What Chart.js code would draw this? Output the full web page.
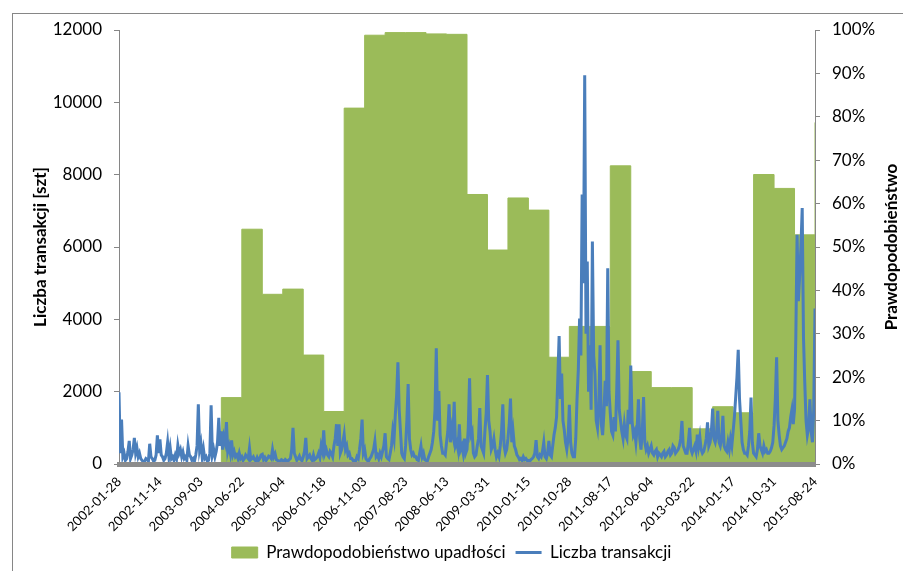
<!DOCTYPE html>
<html>
<head>
<meta charset="utf-8">
<script src="https://cdn.jsdelivr.net/npm/chart.js@4"></script>
<style>
  html, body { margin: 0; padding: 0; background: #fff; overflow: hidden; }
  #wrap { position: relative; width: 903px; height: 571px; overflow: hidden; }
  #frame { position: absolute; left: 12px; top: 13px; width: 1000px; height: 1000px;
           border-left: 1px solid #868686; border-top: 1px solid #868686; pointer-events: none; }
</style>
</head>
<body>
<div id="wrap">
  <canvas id="chart"></canvas>
  <div id="frame"></div>
</div>
<script>
// Daty pod osią X (co 32 punkty serii)
const dateLabels = ['2002-01-28', '2002-11-14', '2003-09-03', '2004-06-22', '2005-04-04', '2006-01-18',
    '2006-11-03', '2007-08-23', '2008-06-13', '2009-03-31', '2010-01-15', '2010-10-28',
    '2011-08-17', '2012-06-04', '2013-03-22', '2014-01-17', '2014-10-31', '2015-08-24'];

// Prawdopodobieństwo upadłości [%], stała wartość w każdym bloku (16 punktów serii)
const pdBlocks = [0, 0, 0, 0, 0, 15.3, 54.1, 39.1, 40.3, 25.1, 12.1, 82.0, 98.8, 99.4, 99.4, 99.1, 99.0,
    62.1, 49.3, 61.3, 58.5, 24.6, 31.7, 31.7, 68.7, 21.3, 17.6, 17.6, 8.1, 13.2, 11.8, 66.7, 63.5, 52.8];
const pdLast = 78.7;

// Liczba transakcji [szt], jeden wiersz na odstęp między datami
const transakcje = [
    1980, 300, 1230, 200, 300, 100, 150, 350, 640, 150, 250, 400, 720, 300, 450, 200, 300, 150, 100, 60, 80, 150, 120, 80, 560, 200, 150, 80, 100, 250, 790, 300,
    680, 250, 200, 100, 150, 300, 600, 200, 450, 150, 200, 100, 250, 150, 520, 300, 400, 200, 330, 150, 200, 100, 500, 250, 200, 100, 150, 80, 250, 500, 1650, 400,
    580, 200, 420, 150, 200, 80, 100, 300, 1620, 250, 400, 200, 350, 600, 1280, 500, 900, 400, 750, 600, 1160, 350, 500, 300, 650, 250, 350, 200, 250, 150, 300, 150,
    200, 100, 150, 250, 200, 150, 440, 120, 150, 200, 120, 80, 180, 100, 150, 250, 270, 120, 180, 100, 150, 220, 200, 150, 400, 200, 280, 120, 100, 60, 80, 120,
    100, 60, 120, 90, 80, 120, 150, 400, 1000, 300, 200, 100, 150, 220, 120, 90, 200, 350, 720, 150, 200, 250, 150, 100, 250, 120, 150, 200, 300, 180, 500, 350,
    930, 300, 400, 250, 200, 350, 300, 200, 500, 700, 1100, 500, 1100, 300, 400, 600, 820, 400, 500, 250, 300, 150, 150, 100, 100, 80, 200, 150, 400, 700, 1230, 300,
    400, 150, 100, 80, 150, 200, 300, 400, 630, 200, 250, 150, 300, 200, 350, 500, 850, 200, 150, 120, 300, 500, 920, 700, 1380, 1900, 2810, 1500, 900, 300, 200, 150,
    500, 1200, 2210, 700, 400, 250, 300, 200, 200, 120, 100, 300, 500, 200, 300, 120, 100, 80, 200, 300, 400, 600, 900, 1500, 3200, 1200, 2020, 800, 500, 300, 300, 250,
    600, 900, 1650, 600, 1000, 800, 1720, 500, 600, 400, 1100, 400, 500, 300, 700, 300, 400, 1000, 2370, 800, 900, 300, 200, 250, 500, 700, 1550, 500, 400, 300, 900, 1400,
    2460, 1200, 900, 400, 500, 700, 400, 200, 300, 200, 500, 900, 1650, 500, 300, 400, 700, 1100, 1810, 600, 900, 500, 400, 250, 200, 120, 150, 100, 200, 120, 150, 100,
    100, 80, 120, 150, 200, 300, 660, 200, 150, 250, 200, 350, 600, 200, 150, 300, 640, 250, 200, 500, 800, 1000, 1300, 2400, 3540, 1800, 2500, 1200, 950, 600, 400, 700,
    1640, 600, 300, 200, 200, 700, 1800, 2600, 4020, 3000, 7450, 5000, 10750, 3600, 5600, 2000, 3280, 1500, 6150, 3000, 2500, 1200, 1000, 1600, 3280, 1100, 800, 1400, 2300, 1600, 5410, 2000,
    1400, 900, 800, 1300, 900, 2000, 3420, 1500, 1200, 900, 700, 1100, 800, 700, 1500, 1100, 2720, 1200, 800, 900, 600, 1000, 1790, 700, 400, 900, 1850, 600, 400, 500, 300, 400,
    500, 300, 250, 350, 400, 200, 300, 250, 200, 300, 350, 200, 250, 350, 400, 250, 300, 500, 450, 300, 350, 400, 500, 700, 1190, 500, 400, 300, 300, 600, 1000, 400,
    300, 400, 500, 350, 810, 500, 750, 400, 300, 350, 500, 700, 1150, 500, 600, 900, 1530, 700, 600, 800, 1470, 600, 500, 700, 1330, 500, 400, 350, 600, 400, 700, 500,
    900, 1300, 1840, 2400, 3160, 1800, 1200, 600, 400, 300, 300, 250, 500, 900, 1840, 600, 300, 250, 200, 400, 850, 500, 400, 300, 500, 350, 400, 300, 300, 350, 450, 600,
    1060, 1800, 2950, 1200, 800, 500, 400, 450, 500, 600, 700, 900, 1000, 1300, 1510, 1100, 1500, 3500, 6340, 4500, 5200, 6000, 7080, 3500, 2250, 1200, 800, 1000, 1790, 900, 600, 1500,
    4300
];

const perLabel = 32;
const perBlock = 16;
const lastIdx = transakcje.length - 1;

const pdPoints = pdBlocks.map((v, k) => ({ x: k * perBlock, y: v }));
pdPoints.push({ x: lastIdx, y: pdLast });
const txPoints = transakcje.map((v, i) => ({ x: i, y: v }));

Chart.defaults.font.family = 'Lato';
Chart.defaults.color = '#000';

// tytuł prawej osi czytany od dołu do góry
const rightTitle = {
    id: 'rightTitle',
    afterDraw(chart) {
        const { ctx, chartArea } = chart;
        const s = chart.scales.y1;
        ctx.save();
        ctx.translate(s.right - 11, (chartArea.top + chartArea.bottom) / 2);
        ctx.rotate(-Math.PI / 2);
        ctx.font = 'bold 17px Lato';
        ctx.fillStyle = '#000';
        ctx.textAlign = 'center';
        ctx.textBaseline = 'middle';
        ctx.fillText('Prawdopodobieństwo', 0, 0);
        ctx.restore();
    }
};

const axisGrid = { drawOnChartArea: false, drawTicks: true, tickLength: 5, color: '#868686' };

new Chart(document.getElementById('chart'), {
    type: 'line',
    data: {
        datasets: [{
            label: 'Prawdopodobieństwo upadłości',
            data: pdPoints,
            yAxisID: 'y1',
            stepped: true,
            fill: 'origin',
            backgroundColor: '#9bbb59',
            borderColor: '#9bbb59',
            borderWidth: 1,
            pointRadius: 0,
            pointStyle: 'rect',
            order: 2
        }, {
            label: 'Liczba transakcji',
            data: txPoints,
            yAxisID: 'y',
            borderColor: '#4a7ebb',
            backgroundColor: '#4a7ebb',
            borderWidth: 3,
            pointRadius: 0,
            pointStyle: 'line',
            order: 1
        }]
    },
    options: {
        responsive: true,
        maintainAspectRatio: false,
        animation: false,
        layout: { padding: { top: 30, left: 0, right: 0, bottom: 0 } },
        plugins: {
            legend: {
                position: 'bottom',
                labels: {
                    usePointStyle: true,
                    pointStyleWidth: 26,
                    boxHeight: 11,
                    padding: 10,
                    font: { size: 17 },
                    sort: (a, b) => a.datasetIndex - b.datasetIndex
                }
            },
            tooltip: { enabled: false }
        },
        scales: {
            x: {
                type: 'linear',
                min: 0,
                max: lastIdx,
                z: 1,
                grid: { drawOnChartArea: false, drawTicks: false },
                border: { color: '#8c8c8c', width: 5, z: 1 },
                ticks: {
                    stepSize: perLabel,
                    autoSkip: false,
                    minRotation: 45,
                    maxRotation: 45,
                    padding: 10,
                    font: { size: 13 },
                    callback: (v) => dateLabels[v / perLabel] ?? ''
                },
                afterFit: (s) => { s.height = 70; }
            },
            y: {
                position: 'left',
                min: 0,
                max: 12000,
                grid: axisGrid,
                border: { color: '#868686', width: 1 },
                ticks: { stepSize: 2000, padding: 12, font: { size: 17 }, callback: (v) => String(v) },
                title: {
                    display: true,
                    text: 'Liczba transakcji [szt]',
                    font: { size: 17, weight: 'bold' },
                    padding: { top: 30, bottom: 0 }
                },
                afterFit: (s) => { s.width = 119; }
            },
            y1: {
                position: 'right',
                min: 0,
                max: 100,
                grid: axisGrid,
                border: { color: '#868686', width: 1 },
                ticks: { stepSize: 10, padding: 12, font: { size: 17 }, callback: (v) => v + '%' },
                afterFit: (s) => { s.width = 88; }
            }
        }
    },
    plugins: [rightTitle]
});
</script>
</body>
</html>
